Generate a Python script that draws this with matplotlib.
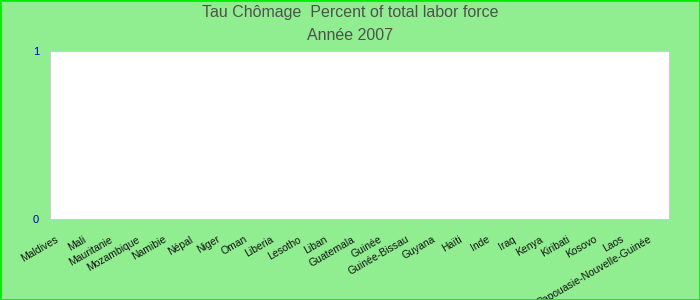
import numpy as np
import matplotlib.pyplot as plt
import matplotlib.transforms as mtransforms

plt.rcParams['font.family'] = ['Liberation Sans', 'DejaVu Sans']

pays = ['Maldives', 'Mali', 'Mauritanie', 'Mozambique', 'Namibie', 'Népal', 'Niger',
        'Oman', 'Liberia', 'Lesotho', 'Liban', 'Guatemala', 'Guinée', 'Guinée-Bissau',
        'Guyana', 'Haïti', 'Inde', 'Iraq', 'Kenya', 'Kiribati', 'Kosovo', 'Laos',
        'Papouasie-Nouvelle-Guinée']
# no values shown for 2007
chomage = [np.nan] * len(pays)

fig = plt.figure(figsize=(7, 3), dpi=100, facecolor='#90ee90')
fig.patches.append(plt.Rectangle((0, 0), 1, 1, transform=fig.transFigure,
                                 fill=False, edgecolor='#00ee00', linewidth=2))

ax = fig.add_axes([50 / 700, 1 - 219 / 300, 619 / 700, 168 / 300])
ax.set_facecolor('white')
x = np.arange(len(pays))
ax.bar(x, np.nan_to_num(chomage), color='#4472c4', width=0.6)
ax.set_xlim(-0.5, len(pays) - 0.5)
ax.set_ylim(0, 1)
for s in ax.spines.values():
    s.set_color('#cccccc')

ax.set_yticks([0, 1])
ax.set_yticklabels(['0', '1'], color='#0000aa', fontsize=8)
ax.tick_params(axis='y', length=0, pad=8)

ax.set_xticks(x)
ax.set_xticklabels(pays, rotation=30, ha='right', va='top', rotation_mode='anchor',
                   fontsize=7.5, color='#111111')
ax.tick_params(axis='x', length=0, pad=11)
off = mtransforms.ScaledTranslation(-8 / 100, 0, fig.dpi_scale_trans)
for lab in ax.get_xticklabels():
    lab.set_transform(lab.get_transform() + off)

fig.text(0.5, 1 - 13 / 300, 'Tau Chômage  Percent of total labor force',
         ha='center', va='center', fontsize=11.5, color='#505050')
fig.text(0.5, 1 - 36 / 300, 'Année 2007',
         ha='center', va='center', fontsize=11.5, color='#505050')

fig.savefig('out.png', dpi=100, facecolor=fig.get_facecolor())
